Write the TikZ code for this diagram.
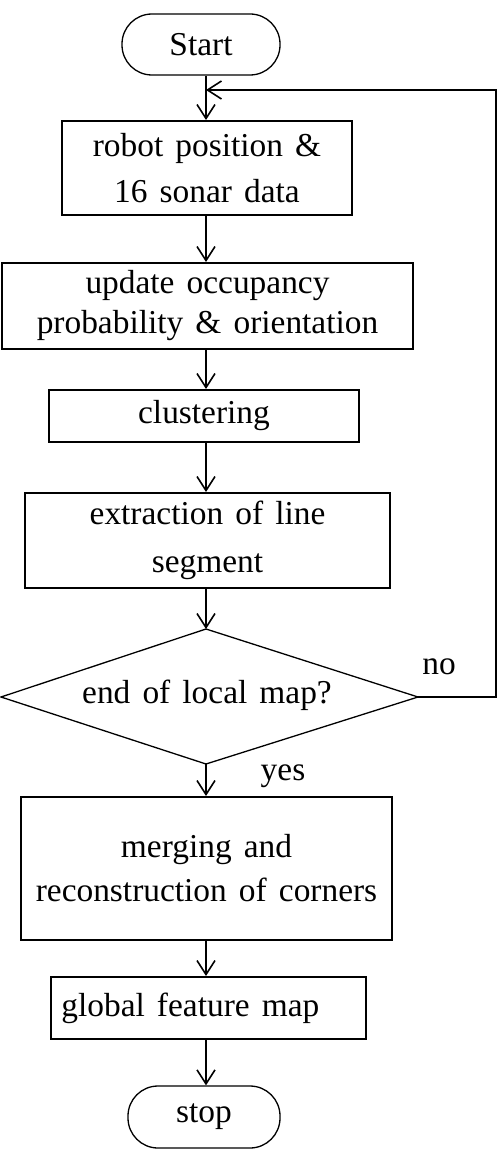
\documentclass[tikz,border=0pt]{standalone}
\usepackage{fontspec}
\setmainfont[WordSpace=1.45]{Liberation Serif}
\usetikzlibrary{arrows.meta}
\begin{document}
\begin{tikzpicture}[x=0.5pt,y=-0.5pt,
  every node/.style={font=\fontsize{16.7}{20}\selectfont},
  procbox/.style={draw, line width=1pt, inner sep=0pt, align=center},
  term/.style={draw, line width=0.65pt, rounded corners=15pt, inner sep=0pt},
  arr/.style={line width=1pt, -{Straight Barb[length=7pt,width=9pt,line width=0.8pt]}},
  lbl/.style={inner sep=0pt}]
\useasboundingbox (0,0) rectangle (497,1156);
\coordinate (col) at (206,0);
\node[term, minimum width=79pt, minimum height=30.5pt] (s) at (201,44.5) {Start};
\node[procbox, minimum width=145pt, minimum height=47pt] (b1) at (207,168) {robot position \&\\[3pt]16 sonar data};
\node[procbox, minimum width=205.5pt, minimum height=43pt] (b2) at (207.5,306) {update occupancy\\probability \& orientation};
\node[procbox, minimum width=155pt, minimum height=26pt] (b3) at (204,416) {clustering};
\node[procbox, minimum width=182.5pt, minimum height=47.5pt] (b4) at (207.5,540.5) {extraction of line\\[4pt]segment};
\coordinate (dt) at (206,629);
\coordinate (dl) at (1,697);
\coordinate (dr) at (418,697);
\coordinate (db) at (206,764);
\draw[line width=0.65pt] (dt) -- (dr) -- (db) -- (dl) -- cycle;
\node[lbl] (dec) at (207,695) {end of local map?};
\node[procbox, minimum width=185.5pt, minimum height=71.5pt] (b5) at (206.5,868.5) {merging and\\[2pt]reconstruction of corners};
\node[procbox, minimum width=157.5pt, minimum height=31pt] (b6) at (208.5,1008) {};
\node[lbl, anchor=west] (b6t) at (61,1008) {global feature map};
\node[term, minimum width=76pt, minimum height=31pt] (e) at (204,1117) {stop};
\node[lbl] (no) at (439,667) {no};
\node[lbl] (yes) at (283,776) {yes};
\coordinate (lp1) at (496,697);
\coordinate (lp2) at (496,90);
\coordinate (lp3) at (206,90);
\draw[arr] (s.south -| col) -- (b1.north -| col);
\draw[arr] (b1.south -| col) -- (b2.north -| col);
\draw[arr] (b2.south -| col) -- (b3.north -| col);
\draw[arr] (b3.south -| col) -- (b4.north -| col);
\draw[arr] (b4.south -| col) -- (dt);
\draw[arr] (db) -- (b5.north -| col);
\draw[arr] (b5.south -| col) -- (b6.north -| col);
\draw[arr] (b6.south -| col) -- (e.north -| col);
\draw[arr] (dr) -- (lp1) -- (lp2) -- (lp3);
\end{tikzpicture}
\end{document}
